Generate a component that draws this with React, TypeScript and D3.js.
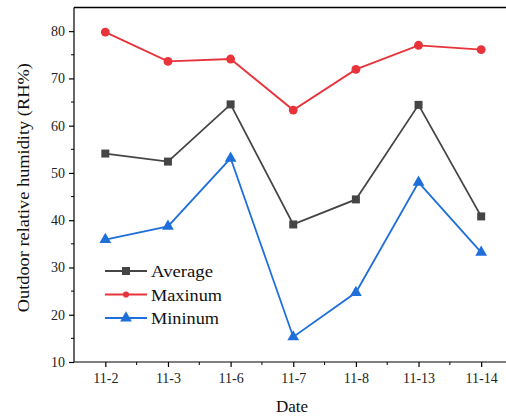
import * as d3 from "d3";
import React, { useRef, useEffect } from "react";

const dates = ["11-2", "11-3", "11-6", "11-7", "11-8", "11-13", "11-14"];
const average = [54.1, 52.4, 64.5, 39.1, 44.4, 64.4, 40.8];
const maximum = [79.8, 73.6, 74.1, 63.3, 71.9, 77.0, 76.1];
const minimum = [35.9, 38.7, 53.1, 15.3, 24.7, 48.0, 33.2];
const yTicks = [10, 20, 30, 40, 50, 60, 70, 80];
const yMinorTicks = [15, 25, 35, 45, 55, 65, 75];

const W = 506;
const H = 416;
const FONT = "Liberation Serif, Times New Roman, serif";

export default function App() {
  const ref = useRef<SVGSVGElement>(null);

  useEffect(() => {
    const svg = d3.select(ref.current);
    svg.selectAll("*").remove();

    const x = d3.scalePoint<string>().domain(dates).range([74, 512.5]).padding(0.5);
    const y = d3.scaleLinear().domain([10, 85]).range([362, 7.5]);
    const left = 74;
    const right = 512.5;
    const bottom = 362;
    const top = 7.5;

    // frame
    svg.append("line")
      .attr("x1", left).attr("x2", right).attr("y1", top).attr("y2", top)
      .attr("stroke", "#000").attr("stroke-width", 1.3);
    svg.append("line")
      .attr("x1", right).attr("x2", right).attr("y1", top).attr("y2", bottom)
      .attr("stroke", "#000").attr("stroke-width", 1.3);

    // y axis
    const yAxis = svg.append("g")
      .attr("transform", `translate(${left},0)`)
      .call(d3.axisLeft(y).tickValues(yTicks).tickSize(5).tickSizeOuter(0).tickPadding(4));
    yAxis.append("g").selectAll("line")
      .data(yMinorTicks)
      .join("line")
      .attr("x1", 0).attr("x2", -3)
      .attr("y1", (d) => y(d)).attr("y2", (d) => y(d))
      .attr("stroke", "#000");
    yAxis.select(".domain").attr("d", `M0,${top}V${bottom}`);

    // x axis
    const xAxis = svg.append("g")
      .attr("transform", `translate(0,${bottom})`)
      .call(d3.axisBottom(x).tickSize(5).tickSizeOuter(0).tickPadding(6));
    xAxis.select(".domain").attr("d", `M${left},0H${right}`);
    xAxis.append("g").selectAll("line")
      .data(dates.slice(0, -1))
      .join("line")
      .attr("x1", (d) => (x(d) as number) + x.step() / 2)
      .attr("x2", (d) => (x(d) as number) + x.step() / 2)
      .attr("y1", 0).attr("y2", 3)
      .attr("stroke", "#000");

    [xAxis, yAxis].forEach((a) => a.attr("font-family", FONT).attr("font-size", 14));
    svg.selectAll(".tick text")
      .attr("font-family", FONT)
      .attr("font-size", 14)
      .attr("fill", "#222");
    svg.selectAll(".domain, .tick line").attr("stroke-width", 1.2);

    // series
    const series = [
      { name: "Average", values: average, color: "#454545", shape: d3.symbolSquare, size: 64, len: 62 },
      { name: "Maxinum", values: maximum, color: "#e8333a", shape: d3.symbolCircle, size: 62, len: 71 },
      { name: "Mininum", values: minimum, color: "#1f6fdb", shape: d3.symbolTriangle, size: 60, len: 68 },
    ];

    const line = d3.line<number>()
      .x((_, i) => x(dates[i]) as number)
      .y((d) => y(d));

    series.forEach((s) => {
      svg.append("path")
        .attr("d", line(s.values))
        .attr("fill", "none")
        .attr("stroke", s.color)
        .attr("stroke-width", 1.8);
      svg.append("g").selectAll("path")
        .data(s.values)
        .join("path")
        .attr("d", d3.symbol().type(s.shape).size(s.size)())
        .attr("transform", (d, i) => `translate(${x(dates[i])},${y(d)})`)
        .attr("fill", s.color);
    });

    // legend
    const legend = svg.append("g").attr("transform", "translate(105,271)");
    series.forEach((s, i) => {
      const g = legend.append("g").attr("transform", `translate(0,${i * 23.5})`);
      g.append("line")
        .attr("x1", 0).attr("x2", 42).attr("y1", 0).attr("y2", 0)
        .attr("stroke", s.color).attr("stroke-width", 1.8);
      g.append("path")
        .attr("d", d3.symbol().type(s.shape).size(i === 1 ? 30 : s.size)())
        .attr("transform", "translate(21,0)")
        .attr("fill", s.color);
      g.append("text")
        .attr("x", 46).attr("y", 6)
        .attr("font-family", FONT)
        .attr("font-size", 17)
        .attr("textLength", s.len)
        .attr("lengthAdjust", "spacingAndGlyphs")
        .attr("fill", "#111")
        .text(s.name);
    });

    // axis titles
    svg.append("text")
      .attr("transform", `translate(29,${(top + bottom) / 2 + 3}) rotate(-90)`)
      .attr("text-anchor", "middle")
      .attr("font-family", FONT)
      .attr("font-size", 17)
      .attr("textLength", 249)
      .attr("lengthAdjust", "spacingAndGlyphs")
      .attr("fill", "#111")
      .text("Outdoor relative humidity (RH%)");
    svg.append("text")
      .attr("x", 292).attr("y", 412)
      .attr("text-anchor", "middle")
      .attr("font-family", FONT)
      .attr("font-size", 17)
      .attr("fill", "#111")
      .text("Date");
  }, []);

  return (
    <svg
      ref={ref}
      width={W}
      height={H}
      style={{ position: "absolute", left: 0, top: 0, background: "#fff" }}
    />
  );
}
